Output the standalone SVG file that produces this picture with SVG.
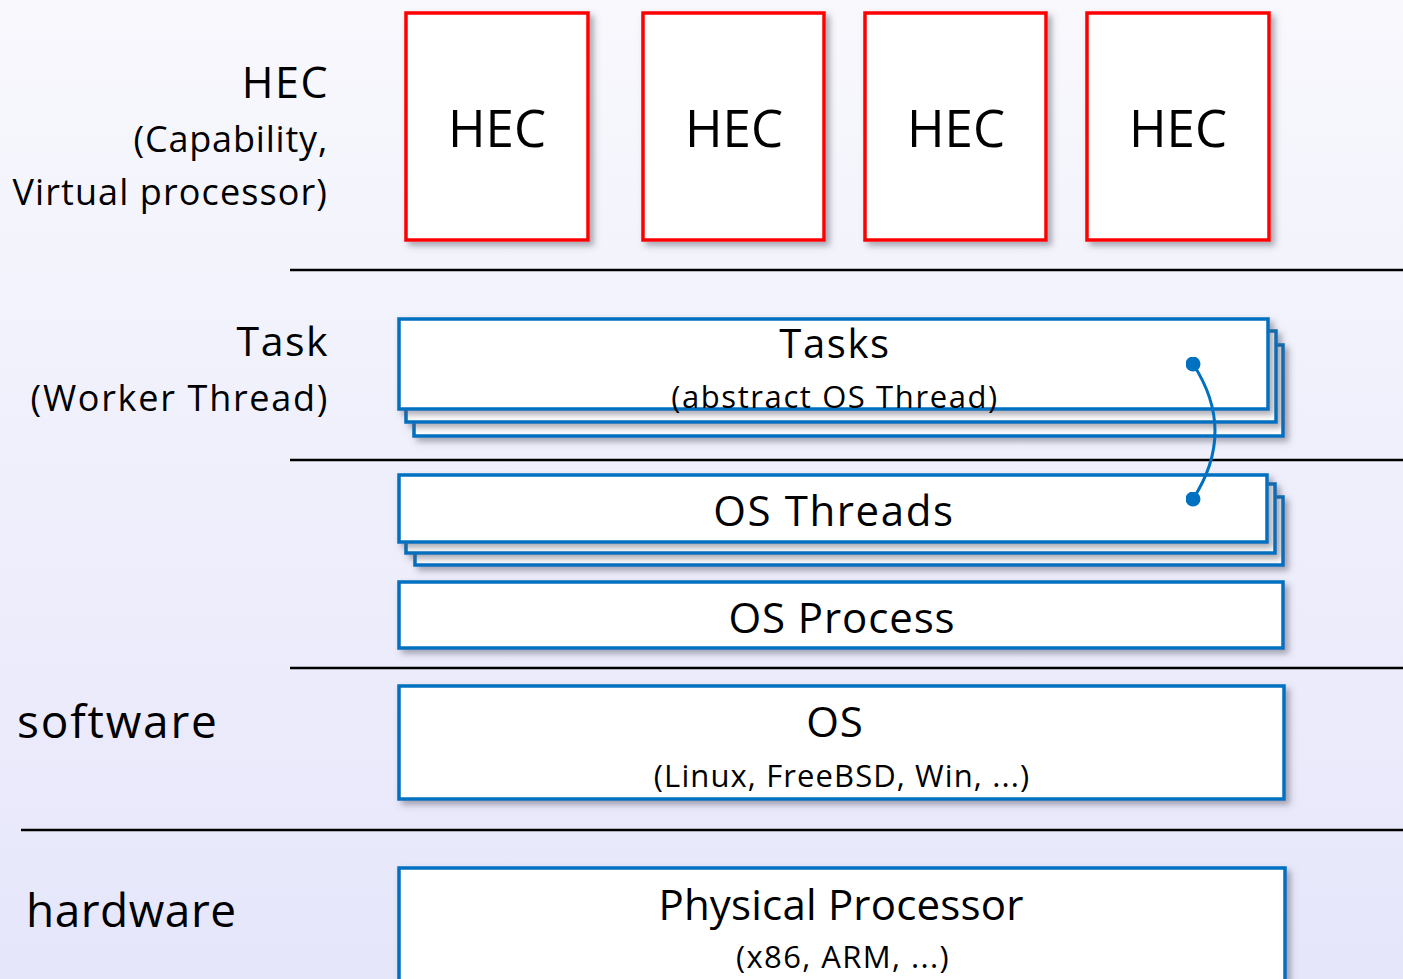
<svg xmlns="http://www.w3.org/2000/svg" width="1403" height="979" viewBox="0 0 1403 979">
<defs>
<linearGradient id="bg" x1="0" y1="0" x2="0" y2="1">
<stop offset="0" stop-color="#f8f8fd"/>
<stop offset="1" stop-color="#e6e6fb"/>
</linearGradient>
<filter id="sh" x="-5%" y="-5%" width="115%" height="125%">
<feDropShadow dx="4" dy="4" stdDeviation="3" flood-color="#555566" flood-opacity="0.5"/>
</filter>
<marker id="dot" viewBox="0 0 10 10" refX="5" refY="5" markerWidth="5" markerHeight="5" markerUnits="strokeWidth">
<circle cx="5" cy="5" r="5" fill="#0070c0"/>
</marker>
</defs>
<style>
text{font-family:"Comic Sans MS","Open Sans","DejaVu Sans",sans-serif;fill:#000}
.hec{fill:#fff;stroke:#ff0000;stroke-width:3.5;filter:url(#sh)}
.blue{fill:#fff;stroke:#0070c0;stroke-width:3.5;filter:url(#sh)}
.sep{stroke:#000;stroke-width:2.5}
.lbl{text-anchor:end}
.c{text-anchor:middle}
</style>
<rect width="1403" height="979" fill="url(#bg)"/>
<g id="separators">
<line class="sep" x1="290" y1="270" x2="1403" y2="270"/>
<line class="sep" x1="290" y1="460" x2="1403" y2="460"/>
<line class="sep" x1="290" y1="668" x2="1403" y2="668"/>
<line class="sep" x1="21" y1="830" x2="1403" y2="830"/>
</g>
<g id="labels">
<text class="lbl" x="329" y="98" font-size="43" letter-spacing="1.5">HEC</text>
<text class="lbl" x="328" y="152" font-size="36" letter-spacing="0.8">(Capability,</text>
<text class="lbl" x="328" y="205" font-size="36" letter-spacing="1.1">Virtual processor)</text>
<text class="lbl" x="329" y="356" font-size="41" letter-spacing="1.5">Task</text>
<text class="lbl" x="329" y="411" font-size="36" letter-spacing="1.7">(Worker Thread)</text>
<text x="17" y="738" font-size="46" letter-spacing="1.8">software</text>
<text x="26" y="927" font-size="46" letter-spacing="0.5">hardware</text>
</g>
<g id="hec1"><rect class="hec" x="406" y="13" width="182" height="227"/><text class="c" x="497" y="147" font-size="51">HEC</text></g>
<g id="hec2"><rect class="hec" x="643" y="13" width="181" height="227"/><text class="c" x="734" y="147" font-size="51">HEC</text></g>
<g id="hec3"><rect class="hec" x="865" y="13" width="181" height="227"/><text class="c" x="956" y="147" font-size="51">HEC</text></g>
<g id="hec4"><rect class="hec" x="1087" y="13" width="182" height="227"/><text class="c" x="1178" y="147" font-size="51">HEC</text></g>
<g id="tasks">
<rect class="blue" x="414" y="345" width="869" height="91"/>
<rect class="blue" x="406" y="331" width="870" height="91"/>
<rect class="blue" x="399" y="319" width="869" height="90"/>
<text class="c" x="835" y="358" font-size="40" letter-spacing="1.6">Tasks</text>
<text class="c" x="835" y="408" font-size="31" letter-spacing="1.6">(abstract OS Thread)</text>
</g>
<g id="osthreads">
<rect class="blue" x="415" y="497" width="868" height="68"/>
<rect class="blue" x="406" y="484" width="869" height="69"/>
<rect class="blue" x="399" y="475" width="868" height="67"/>
<text class="c" x="834" y="526" font-size="42" letter-spacing="1.6">OS Threads</text>
</g>
<g id="osprocess">
<rect class="blue" x="399" y="582" width="884" height="66"/>
<text class="c" x="842" y="633" font-size="42" letter-spacing="0.9">OS Process</text>
</g>
<g id="os">
<rect class="blue" x="399" y="686" width="885" height="113"/>
<text class="c" x="835" y="737" font-size="42" letter-spacing="1">OS</text>
<text class="c" x="842" y="787" font-size="31" letter-spacing="1.1">(Linux, FreeBSD, Win, ...)</text>
</g>
<g id="physical">
<rect class="blue" x="399" y="868" width="886" height="140"/>
<text class="c" x="841" y="920" font-size="42" letter-spacing="0.2">Physical Processor</text>
<text class="c" x="843" y="968" font-size="31" letter-spacing="1.4">(x86, ARM, ...)</text>
</g>
<g id="connectors">
<path d="M1193,364 Q1237,431 1193,499" fill="none" stroke="#0070c0" stroke-width="3" marker-start="url(#dot)" marker-end="url(#dot)"/>
</g>
</svg>
